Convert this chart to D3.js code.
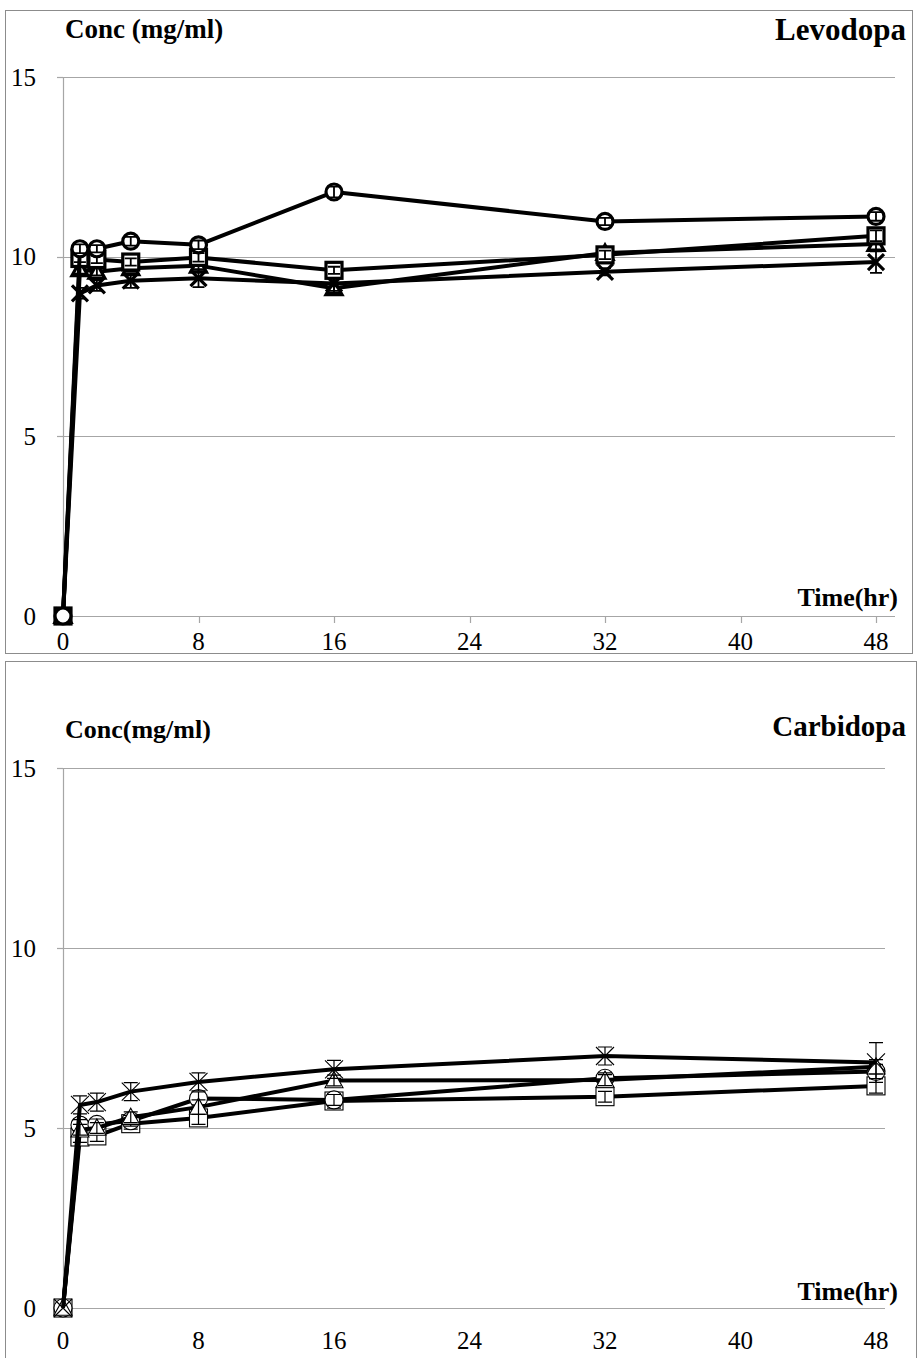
<!DOCTYPE html>
<html>
<head>
<meta charset="utf-8">
<script src="https://cdn.jsdelivr.net/npm/d3@7"></script>
<style>
  html, body { margin: 0; padding: 0; background: #fff; }
  svg text { font-family: "Liberation Serif", "Times New Roman", Times, serif; fill: #000; }
</style>
</head>
<body>
<svg id="chart" width="918" height="1358"></svg>
<script>
// Sampling times (hours) and axis ticks
const hours = [0, 1, 2, 4, 8, 16, 32, 48];
const xTicks = [0, 8, 16, 24, 32, 40, 48];
const yTicks = [0, 5, 10, 15];

// Levodopa concentration (mg/ml) and SD for each formulation
const levodopaCircle = [0, 10.22, 10.22, 10.43, 10.33, 11.8, 10.98, 11.12];
const levodopaCircleErr = [0, 0.12, 0.1, 0.12, 0.12, 0.15, 0.1, 0.12];
const levodopaSquare = [0, 9.95, 9.92, 9.85, 9.98, 9.62, 10.05, 10.58];
const levodopaSquareErr = [0, 0.1, 0.1, 0.1, 0.12, 0.1, 0.12, 0.15];
const levodopaTriangle = [0, 9.65, 9.58, 9.68, 9.75, 9.12, 10.1, 10.35];
const levodopaTriangleErr = [0, 0.12, 0.1, 0.1, 0.15, 0.12, 0.1, 0.15];
const levodopaCross = [0, 8.98, 9.2, 9.33, 9.4, 9.25, 9.58, 9.85];
const levodopaCrossErr = [0, 0.15, 0.15, 0.2, 0.25, 0.2, 0.1, 0.3];

// Carbidopa concentration (mg/ml) and SD for each formulation
const carbidopaCircle = [0, 5.08, 5.1, 5.2, 5.82, 5.78, 6.38, 6.57];
const carbidopaCircleErr = [0, 0.15, 0.15, 0.15, 0.18, 0.15, 0.15, 0.2];
const carbidopaSquare = [0, 4.75, 4.78, 5.12, 5.28, 5.75, 5.87, 6.17];
const carbidopaSquareErr = [0, 0.15, 0.15, 0.15, 0.18, 0.2, 0.15, 0.2];
const carbidopaTriangle = [0, 4.95, 5.0, 5.3, 5.58, 6.32, 6.33, 6.7];
const carbidopaTriangleErr = [0, 0.15, 0.15, 0.15, 0.2, 0.15, 0.15, 0.2];
const carbidopaCross = [0, 5.64, 5.72, 6.01, 6.28, 6.63, 7.0, 6.82];
const carbidopaCrossErr = [0, 0.25, 0.25, 0.25, 0.25, 0.25, 0.25, 0.55];

const svg = d3.select("#chart");

const panels = [
  {
    frame: [5.5, 10.5, 907, 643],
    title: "Levodopa", titleY: 40, titleSize: 31,
    yLabel: "Conc (mg/ml)", yLabelY: 38, yLabelSize: 27,
    top: 77, bottom: 616, gridRight: 895,
    xLabelY: 650, timeY: 606, xTickMarks: true,
    markerStroke: 3.2, markerSize: 16, errStroke: 1.8, capHalf: 6, lineWidth: 4,
    series: [
      { shape: "triangle", values: levodopaTriangle, err: levodopaTriangleErr },
      { shape: "cross", values: levodopaCross, err: levodopaCrossErr },
      { shape: "square", values: levodopaSquare, err: levodopaSquareErr },
      { shape: "circle", values: levodopaCircle, err: levodopaCircleErr }
    ]
  },
  {
    frame: [5.5, 661.5, 911, 720],
    title: "Carbidopa", titleY: 736, titleSize: 29,
    yLabel: "Conc(mg/ml)", yLabelY: 738, yLabelSize: 26,
    top: 768, bottom: 1308, gridRight: 885,
    xLabelY: 1349, timeY: 1300, xTickMarks: false,
    markerStroke: 1.1, markerSize: 18, errStroke: 1.2, capHalf: 7, lineWidth: 4,
    series: [
      { shape: "square", values: carbidopaSquare, err: carbidopaSquareErr },
      { shape: "circle", values: carbidopaCircle, err: carbidopaCircleErr },
      { shape: "triangle", values: carbidopaTriangle, err: carbidopaTriangleErr },
      { shape: "cross", values: carbidopaCross, err: carbidopaCrossErr }
    ]
  }
];

const gridColor = "#a6a6a6";

panels.forEach(p => {
  const g = svg.append("g");
  const x = d3.scaleLinear().domain([0, 48]).range([63, 876]);
  const y = d3.scaleLinear().domain([0, 15]).range([p.bottom, p.top]);

  // outer frame
  g.append("rect")
    .attr("x", p.frame[0]).attr("y", p.frame[1])
    .attr("width", p.frame[2]).attr("height", p.frame[3])
    .attr("fill", "none").attr("stroke", "#8c8c8c").attr("stroke-width", 1);

  // horizontal gridlines
  g.selectAll("line.grid").data(yTicks).join("line")
    .attr("x1", 63).attr("x2", p.gridRight)
    .attr("y1", d => Math.round(y(d)) + 0.5).attr("y2", d => Math.round(y(d)) + 0.5)
    .attr("stroke", gridColor).attr("stroke-width", 1.2);

  // vertical axis line with small outward ticks
  g.append("line")
    .attr("x1", 63.5).attr("x2", 63.5)
    .attr("y1", y(15)).attr("y2", y(0))
    .attr("stroke", gridColor).attr("stroke-width", 1.2);
  g.selectAll("line.ytick").data(yTicks).join("line")
    .attr("x1", 57).attr("x2", 63)
    .attr("y1", d => Math.round(y(d)) + 0.5).attr("y2", d => Math.round(y(d)) + 0.5)
    .attr("stroke", gridColor).attr("stroke-width", 1.2);

  if (p.xTickMarks) {
    g.selectAll("line.xtick").data(xTicks).join("line")
      .attr("x1", d => Math.round(x(d)) + 0.5).attr("x2", d => Math.round(x(d)) + 0.5)
      .attr("y1", y(0)).attr("y2", y(0) + 7)
      .attr("stroke", gridColor).attr("stroke-width", 1.2);
  }

  // tick labels
  g.selectAll("text.ylab").data(yTicks).join("text")
    .attr("x", 36).attr("y", d => y(d)).attr("dy", "0.35em")
    .attr("text-anchor", "end").attr("font-size", 25)
    .text(d => d);
  g.selectAll("text.xlab").data(xTicks).join("text")
    .attr("x", d => x(d)).attr("y", p.xLabelY)
    .attr("text-anchor", "middle").attr("font-size", 25)
    .text(d => d);

  // titles
  g.append("text").attr("x", 65).attr("y", p.yLabelY)
    .attr("font-size", p.yLabelSize).attr("font-weight", "bold").text(p.yLabel);
  g.append("text").attr("x", 906).attr("y", p.titleY)
    .attr("text-anchor", "end").attr("font-size", p.titleSize)
    .attr("font-weight", "bold").text(p.title);
  g.append("text").attr("x", 898).attr("y", p.timeY)
    .attr("text-anchor", "end").attr("font-size", 26)
    .attr("font-weight", "bold").text("Time(hr)");

  const line = d3.line().x((d, i) => x(hours[i])).y(d => y(d));
  const s = p.markerSize / 2;

  p.series.forEach(ser => {
    const sg = g.append("g");
    sg.append("path").datum(ser.values)
      .attr("d", line).attr("fill", "none")
      .attr("stroke", "#000").attr("stroke-width", p.lineWidth)
      .attr("stroke-linejoin", "round");

    const pts = hours.map((h, i) => ({ h, v: ser.values[i], e: ser.err[i] }));
    const m = sg.selectAll("g.m").data(pts).join("g")
      .attr("transform", d => `translate(${x(d.h)},${y(d.v)})`);

    if (ser.shape === "circle") {
      m.append("circle").attr("r", s)
        .attr("fill", "#fff").attr("stroke", "#000").attr("stroke-width", p.markerStroke);
    } else if (ser.shape === "square") {
      m.append("rect").attr("x", -s).attr("y", -s)
        .attr("width", 2 * s).attr("height", 2 * s)
        .attr("fill", "#fff").attr("stroke", "#000").attr("stroke-width", p.markerStroke);
    } else if (ser.shape === "triangle") {
      m.append("path").attr("d", `M0,${-s}L${s},${s * 0.8}L${-s},${s * 0.8}Z`)
        .attr("fill", "#fff").attr("stroke", "#000").attr("stroke-width", p.markerStroke)
        .attr("stroke-linejoin", "miter");
    } else {
      m.append("path").attr("d", `M${-s},${-s}L${s},${s}M${s},${-s}L${-s},${s}`)
        .attr("fill", "none").attr("stroke", "#000").attr("stroke-width", p.markerStroke);
    }

    // error bars with caps
    m.filter(d => d.e > 0).each(function (d) {
      const eg = d3.select(this);
      const dy = y(d.v + d.e) - y(d.v);
      const cap = p.capHalf;
      eg.append("path")
        .attr("d", `M0,${dy}L0,${-dy}M${-cap},${dy}L${cap},${dy}M${-cap},${-dy}L${cap},${-dy}`)
        .attr("fill", "none").attr("stroke", "#000").attr("stroke-width", p.errStroke);
    });
  });
});
</script>
</body>
</html>
